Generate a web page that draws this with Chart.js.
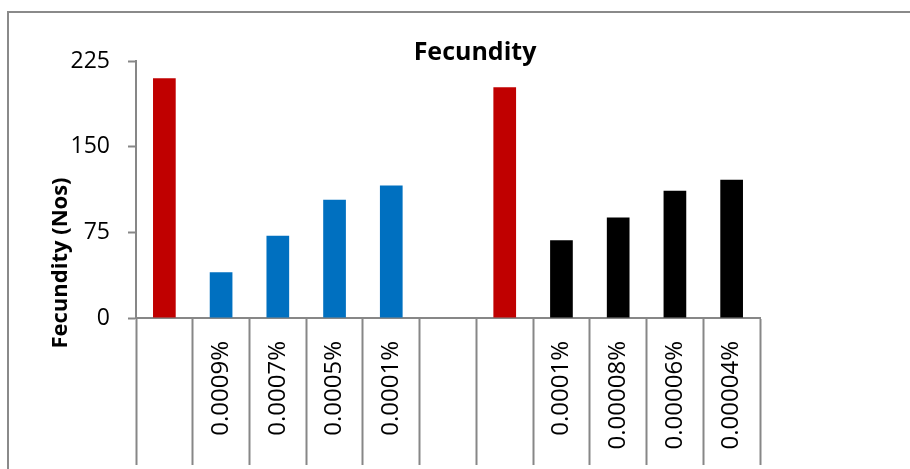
<!DOCTYPE html>
<html>
<head>
<meta charset="utf-8">
<script src="https://cdn.jsdelivr.net/npm/chart.js@4/dist/chart.umd.min.js"></script>
<style>
  html, body { margin: 0; padding: 0; background: #ffffff; }
  #wrap { width: 910px; height: 469px; }
</style>
</head>
<body>
<div id="wrap"><canvas id="chart" width="910" height="469"></canvas></div>
<script>
// Category slots along the x axis (blank slots separate the two treatment sets)
const categories = ['', '0.0009%', '0.0007%', '0.0005%', '0.0001%', '', '', '0.0001%', '0.00008%', '0.00006%', '0.00004%'];
// Fecundity (number of eggs) per slot
const fecundity = [210, 40, 72, 103.5, 116, null, 202, 68, 88, 111.5, 121];
// Which group each slot belongs to
const treatmentGroup = ['control', 'first', 'first', 'first', 'first', null, 'control', 'second', 'second', 'second', 'second'];
// Value axis ticks
const yTicks = [0, 75, 150, 225];

const groupColors = { control: '#C00000', first: '#0070C0', second: '#000000' };
const axisGray = '#878787';
const FONT = '"Open Sans", "Liberation Sans", sans-serif';

// Outer chart frame (left and top edges)
const framePlugin = {
  id: 'frame',
  beforeDraw(chart) {
    const ctx = chart.ctx;
    ctx.save();
    ctx.strokeStyle = '#8a8a8a';
    ctx.lineWidth = 2;
    ctx.beginPath();
    ctx.moveTo(8, chart.height);
    ctx.lineTo(8, 12);
    ctx.lineTo(chart.width, 12);
    ctx.stroke();
    ctx.restore();
  }
};

// Chart title and the vertical axis title
const titlesPlugin = {
  id: 'titles',
  afterDraw(chart) {
    const ctx = chart.ctx;
    const area = chart.chartArea;
    ctx.save();
    ctx.fillStyle = '#000000';
    ctx.font = 'bold 25px ' + FONT;
    ctx.textAlign = 'center';
    ctx.textBaseline = 'alphabetic';
    ctx.fillText('Fecundity', 475, 60);

    const x = chart.scales.x;
    const midY = (area.top + x.top + x.options.grid.tickLength) / 2;
    ctx.translate(61, midY);
    ctx.rotate(-Math.PI / 2);
    ctx.font = 'bold 22px ' + FONT;
    ctx.textBaseline = 'middle';
    ctx.fillText('Fecundity (Nos)', 0, 0);
    ctx.restore();
  }
};

new Chart(document.getElementById('chart'), {
  type: 'bar',
  data: {
    labels: categories,
    datasets: [{
      data: fecundity,
      backgroundColor: treatmentGroup.map(g => g ? groupColors[g] : 'rgba(0,0,0,0)'),
      borderWidth: 0,
      categoryPercentage: 1,
      barPercentage: 0.4
    }]
  },
  options: {
    responsive: false,
    animation: false,
    devicePixelRatio: 1,
    layout: { padding: { top: 61, right: 150, left: 0, bottom: 0 } },
    plugins: {
      legend: { display: false },
      tooltip: { enabled: false },
      title: { display: false }
    },
    scales: {
      x: {
        type: 'category',
        offset: true,
        afterFit(scale) { scale.height = 151; },
        grid: {
          offset: true,
          drawOnChartArea: false,
          drawTicks: true,
          tickLength: 147,
          tickWidth: 2,
          tickColor: axisGray
        },
        border: { display: true, color: axisGray, width: 2 },
        ticks: {
          autoSkip: false,
          minRotation: 90,
          maxRotation: 90,
          padding: -124,
          color: '#000000',
          font: { family: FONT, size: 24 }
        }
      },
      y: {
        min: 0,
        max: 225,
        afterFit(scale) { scale.width = 136; },
        afterBuildTicks(scale) { scale.ticks = yTicks.map(v => ({ value: v })); },
        grid: {
          drawOnChartArea: false,
          drawTicks: true,
          tickLength: 8,
          tickWidth: 2,
          tickColor: axisGray
        },
        border: { display: true, color: axisGray, width: 2 },
        ticks: {
          padding: 18,
          color: '#000000',
          font: { family: FONT, size: 23 }
        }
      }
    }
  },
  plugins: [framePlugin, titlesPlugin]
});
</script>
</body>
</html>
